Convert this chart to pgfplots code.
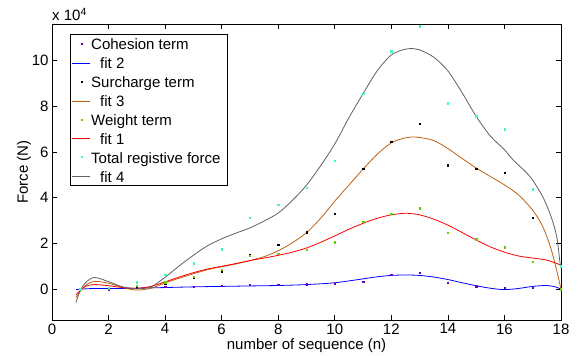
\documentclass[border=0pt]{standalone}
\usepackage{pgfplots}
\pgfplotsset{compat=1.18}
\usepackage{fontspec}
\setmainfont{Liberation Sans}
\definecolor{cohcol}{RGB}{102,0,204}
\definecolor{weicol}{RGB}{102,204,0}
\definecolor{totcol}{RGB}{60,255,170}
\definecolor{fitblue}{RGB}{0,0,255}
\definecolor{fitbrown}{RGB}{192,96,16}
\definecolor{fitred}{RGB}{255,0,0}
\definecolor{fitgray}{RGB}{96,96,96}
\begin{document}
\begin{tikzpicture}[font=\fontsize{15}{18}\selectfont]
\begin{axis}[
  scale only axis, width=509pt, height=296pt,
  xmin=0, xmax=18, ymin=-1.35, ymax=11.6,
  xtick={0,2,...,18}, ytick={0,2,...,10},
  tick align=inside, major tick length=5pt,
  axis line style={line width=0.8pt},
  every tick/.style={black, line width=0.6pt},
  /pgf/number format/assume math mode=true,
  ticklabel style={font=\fontsize{15}{18}\selectfont},
  xlabel={number of sequence (n)}, ylabel={Force (N)},
  xlabel style={yshift=2pt},
  ylabel style={yshift=-6pt},
  clip=false,
]
% Cohesion term
\addplot[only marks, mark=square*, mark size=0.65pt, draw=cohcol, fill=cohcol, mark options={draw=none, fill=cohcol}]
 coordinates {(1,0.0)(2,0.0)(3,0.05)(4,0.1)(5,0.12)(6,0.14)(7,0.19)(8,0.19)(9,0.22)(10,0.23)(11,0.34)(12,0.64)(13,0.72)(14,0.28)(15,0.13)(16,0.07)(17,0.07)(18,0.0)};
% fit 2
\addplot[draw=fitblue, line width=0.8pt, smooth, tension=0.5, no marks]
 coordinates {(0.85,-0.02)(1,0.0)(1.5,0.03)(2,0.03)(2.5,0.03)(3,0.04)(4,0.07)(5,0.1)(6,0.12)(7,0.14)(8,0.16)(9,0.2)(10,0.28)(11,0.45)(11.5,0.54)(12,0.6)(12.5,0.62)(13,0.6)(13.5,0.53)(14,0.42)(14.5,0.28)(15,0.15)(15.5,0.04)(16,-0.02)(16.5,0.03)(17,0.12)(17.5,0.16)(17.8,0.1)(18,0)};
% Surcharge term
\addplot[only marks, mark=square*, mark size=0.65pt, draw=black, fill=black, mark options={draw=none, fill=black}]
 coordinates {(1,0.0)(2,0.02)(3,0.1)(4,0.25)(5,0.5)(6,0.78)(7,1.52)(8,1.94)(9,2.49)(10,3.3)(11,5.26)(12,6.45)(13,7.24)(14,5.42)(15,5.28)(16,5.1)(17,3.13)(18,0.0)};
% fit 3
\addplot[draw=fitbrown, line width=0.8pt, smooth, tension=0.5, no marks]
 coordinates {(0.85,-0.37)(1,-0.1)(1.2,0.18)(1.5,0.34)(2,0.26)(2.5,0.07)(3,-0.04)(3.5,0.04)(4,0.27)(4.5,0.48)(5,0.67)(5.5,0.85)(6,0.98)(6.5,1.1)(7,1.25)(7.5,1.42)(8,1.68)(8.5,2.03)(9,2.47)(9.5,3.1)(10,3.85)(10.5,4.55)(11,5.25)(11.5,5.9)(12,6.4)(12.5,6.62)(12.9,6.65)(13.5,6.5)(14,6.15)(14.5,5.72)(15,5.3)(15.5,4.93)(16,4.56)(16.5,4.12)(17,3.45)(17.35,2.75)(17.65,1.75)(17.9,0.55)(18,-0.04)};
% Weight term
\addplot[only marks, mark=square*, mark size=0.65pt, draw=weicol, fill=weicol, mark options={draw=none, fill=weicol}]
 coordinates {(1,0.0)(2,0.03)(3,0.15)(4,0.3)(5,0.55)(6,0.86)(7,1.45)(8,1.56)(9,1.74)(10,2.06)(11,2.94)(12,3.3)(13,3.54)(14,2.46)(15,2.18)(16,1.84)(17,1.21)(18,0.0)};
% fit 1
\addplot[draw=fitred, line width=0.8pt, smooth, tension=0.5, no marks]
 coordinates {(0.85,-0.26)(1,-0.05)(1.2,0.13)(1.5,0.2)(2,0.15)(2.5,0.07)(3,0.04)(3.5,0.12)(4,0.32)(4.5,0.53)(5,0.72)(5.5,0.88)(6,1.0)(6.5,1.12)(7,1.25)(7.5,1.36)(8,1.48)(8.5,1.62)(9,1.8)(9.5,2.05)(10,2.33)(10.5,2.62)(11,2.88)(11.5,3.1)(12,3.25)(12.5,3.32)(13,3.25)(13.5,3.06)(14,2.8)(14.5,2.48)(15,2.15)(15.5,1.85)(16,1.62)(16.5,1.45)(17,1.36)(17.5,1.27)(18,1.05)};
% Total registive force
\addplot[only marks, mark=square*, mark size=0.65pt, draw=totcol, fill=totcol, mark options={draw=none, fill=totcol}]
 coordinates {(1,0.0)(2,0.05)(3,0.3)(4,0.64)(5,1.14)(6,1.75)(7,3.14)(8,3.7)(9,4.43)(10,5.61)(11,8.55)(12,10.41)(13,11.5)(14,8.13)(15,7.57)(16,7.0)(17,4.37)(18,1.0)};
% fit 4
\addplot[draw=fitgray, line width=0.8pt, smooth, tension=0.5, no marks]
 coordinates {(0.85,-0.58)(1,-0.05)(1.2,0.3)(1.5,0.51)(2,0.33)(2.5,0.1)(3,0.02)(3.5,0.1)(4,0.52)(4.5,1.02)(5,1.48)(5.5,1.9)(6,2.2)(6.5,2.45)(7,2.68)(7.5,2.98)(8,3.33)(8.5,3.88)(9,4.55)(9.5,5.4)(10,6.35)(10.5,7.5)(11,8.55)(11.5,9.55)(12,10.25)(12.5,10.5)(12.8,10.52)(13,10.47)(13.5,10.15)(14,9.55)(14.5,8.6)(15,7.56)(15.5,6.7)(16,6.1)(16.3,5.66)(16.9,4.93)(17.35,4.05)(17.65,3.17)(17.85,2.29)(17.96,1.2)(18,0.95)};
\node[anchor=base west, inner sep=0pt] at ([yshift=3pt]axis description cs:0,1) {x 10\textsuperscript{4}};
\end{axis}
% legend box (drawn by hand, positions in pt from the axis' lower left corner)
\draw[fill=white, line width=0.8pt] (18pt,135pt) rectangle (175pt,286pt);
\fill[cohcol] (29pt,275pt) rectangle +(1.6pt,1.6pt);
\node[anchor=base west, inner sep=0pt] at (39pt,270pt) {Cohesion term};
\draw[fitblue, line width=1.4pt] (20pt,256.5pt) -- (38pt,256.5pt);
\node[anchor=base west, inner sep=0pt] at (48pt,251.1pt) {fit 2};
\fill[black] (29pt,237pt) rectangle +(1.6pt,1.6pt);
\node[anchor=base west, inner sep=0pt] at (39pt,232.2pt) {Surcharge term};
\draw[fitbrown, line width=1.4pt] (20pt,218.5pt) -- (38pt,218.5pt);
\node[anchor=base west, inner sep=0pt] at (48pt,213.3pt) {fit 3};
\fill[weicol] (29pt,199pt) rectangle +(1.6pt,1.6pt);
\node[anchor=base west, inner sep=0pt] at (39pt,194.4pt) {Weight term};
\draw[fitred, line width=1.4pt] (20pt,181.5pt) -- (38pt,181.5pt);
\node[anchor=base west, inner sep=0pt] at (48pt,175.5pt) {fit 1};
\fill[totcol] (29pt,162pt) rectangle +(1.6pt,1.6pt);
\node[anchor=base west, inner sep=0pt] at (39pt,156.6pt) {Total registive force};
\draw[fitgray, line width=1.4pt] (20pt,143.5pt) -- (38pt,143.5pt);
\node[anchor=base west, inner sep=0pt] at (48pt,137.7pt) {fit 4};
\pgfresetboundingbox
\useasboundingbox (-52pt,-36pt) rectangle (529pt,320pt);
\end{tikzpicture}
\end{document}
